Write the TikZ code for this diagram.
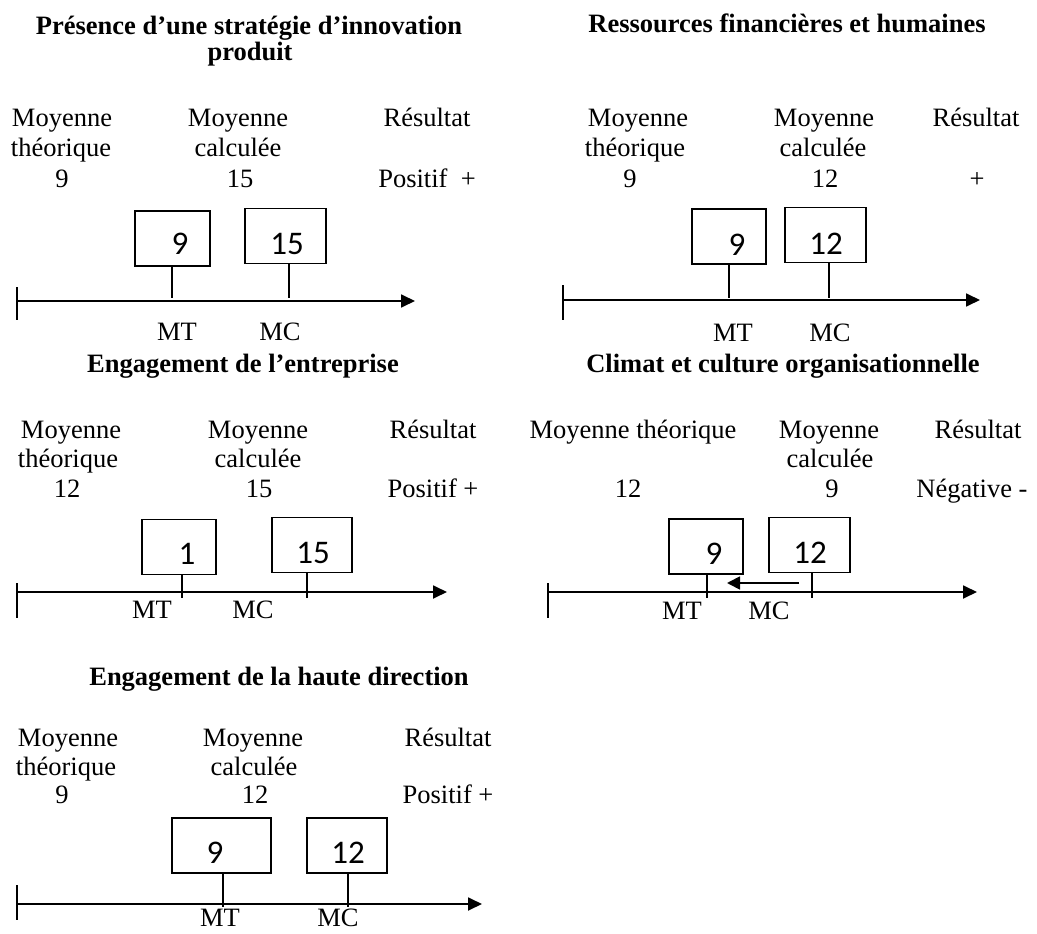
\documentclass[tikz,border=0pt]{standalone}
\usepackage{fontspec}
\setmainfont{Liberation Serif}
\newfontfamily\numfont{Carlito}
\usetikzlibrary{arrows.meta}

\begin{document}
\begin{tikzpicture}[x=1pt, y=-1pt,
  txt/.style={inner sep=0pt, anchor=base, font=\fontsize{26.5}{29.5}\selectfont},
  ttl/.style={txt, font=\fontsize{26.5}{26}\selectfont\bfseries},
  valbox/.style={draw, line width=1.8pt, inner sep=0pt, minimum height=55pt},
  valnum/.style={inner sep=0pt, anchor=base, font=\numfont\fontsize{33}{36}\selectfont},
  stem/.style={line width=1.8pt},
  axis/.style={line width=1.8pt, -{Triangle[length=14pt,width=13pt]}}]
\useasboundingbox (0,0) rectangle (1037,934);

% strategie d'innovation produit
\node[ttl] (t1a) at (249,35) {Présence d’une stratégie d’innovation};
\node[ttl] (t1b) at (250,61) {produit};
\node[txt] (p1ma) at (62,127) {Moyenne};
\node[txt] (p1mb) at (61,157) {théorique};
\node[txt] (p1mv) at (62,187) {9};
\node[txt] (p1ca) at (238,127) {Moyenne};
\node[txt] (p1cb) at (238,157) {calculée};
\node[txt] (p1cv) at (240,187) {15};
\node[txt] (p1ra) at (427,127) {Résultat};
\node[txt] (p1rv) at (427,187) {Positif\ \ +};
\node[valbox, minimum width=75pt] (p1bt) at (172.5,238.5) {};
\node[valbox, minimum width=81pt] (p1bc) at (285.5,236) {};
\node[valnum] (p1nt) at (180,254) {9};
\node[valnum] (p1nc) at (287,254) {15};
\coordinate (p1o) at (17,301);
\coordinate (p1e) at (415,301);
\coordinate (p1xt) at (172,298);
\coordinate (p1xc) at (289,298);
\draw[axis] (p1o) -- (p1e);
\draw[stem] ([yshift=14pt]p1o) -- ([yshift=-19pt]p1o);
\draw[stem] (p1bt.south -| p1xt) -- (p1xt);
\draw[stem] (p1bc.south -| p1xc) -- (p1xc);
\node[txt] (p1lt) at (177,340) {MT};
\node[txt] (p1lc) at (280,340) {MC};

% ressources
\node[ttl] (t2) at (787,33) {Ressources financières et humaines};
\node[txt] (p2ma) at (638,127) {Moyenne};
\node[txt] (p2mb) at (635,157) {théorique};
\node[txt] (p2mv) at (630,187) {9};
\node[txt] (p2ca) at (824,127) {Moyenne};
\node[txt] (p2cb) at (823,157) {calculée};
\node[txt] (p2cv) at (825,187) {12};
\node[txt] (p2ra) at (976,127) {Résultat};
\node[txt] (p2rv) at (977,187) {+};
\node[valbox, minimum width=74pt] (p2bt) at (729,236.5) {};
\node[valbox, minimum width=81pt] (p2bc) at (825.5,235) {};
\node[valnum] (p2nt) at (737,255) {9};
\node[valnum] (p2nc) at (826,254) {12};
\coordinate (p2o) at (563,300);
\coordinate (p2e) at (980,300);
\coordinate (p2xt) at (729,298);
\coordinate (p2xc) at (829,298);
\draw[axis] (p2o) -- (p2e);
\draw[stem] ([yshift=15pt]p2o) -- ([yshift=-20pt]p2o);
\draw[stem] (p2bt.south -| p2xt) -- (p2xt);
\draw[stem] (p2bc.south -| p2xc) -- (p2xc);
\node[txt] (p2lt) at (733,341) {MT};
\node[txt] (p2lc) at (830,341) {MC};

% engagement de l'entreprise
\node[ttl] (t3) at (243,372) {Engagement de l’entreprise};
\node[txt] (p3ma) at (71,438) {Moyenne};
\node[txt] (p3mb) at (68,467) {théorique};
\node[txt] (p3mv) at (67,497) {12};
\node[txt] (p3ca) at (258,438) {Moyenne};
\node[txt] (p3cb) at (258,467) {calculée};
\node[txt] (p3cv) at (259,497) {15};
\node[txt] (p3ra) at (433,438) {Résultat};
\node[txt] (p3rv) at (433,497) {Positif +};
\node[valbox, minimum width=74pt] (p3bt) at (179,547) {};
\node[valbox, minimum width=80pt] (p3bc) at (312,545) {};
\node[valnum] (p3nt) at (187,564) {1};
\node[valnum] (p3nc) at (313,563) {15};
\coordinate (p3o) at (17,592);
\coordinate (p3e) at (447,592);
\coordinate (p3xt) at (182,598);
\coordinate (p3xc) at (307,598);
\draw[axis] (p3o) -- (p3e);
\draw[stem] ([yshift=9pt]p3o) -- ([yshift=-26pt]p3o);
\draw[stem] (p3bt.south -| p3xt) -- (p3xt);
\draw[stem] (p3bc.south -| p3xc) -- (p3xc);
\node[txt] (p3lt) at (152,618) {MT};
\node[txt] (p3lc) at (253,618) {MC};

% climat et culture
\node[ttl] (t4) at (783,372) {Climat et culture organisationnelle};
\node[txt] (p4ma) at (633,438) {Moyenne théorique};
\node[txt] (p4mv) at (628,497) {12};
\node[txt] (p4ca) at (829,438) {Moyenne};
\node[txt] (p4cb) at (830,467) {calculée};
\node[txt] (p4cv) at (832,497) {9};
\node[txt] (p4ra) at (978,438) {Résultat};
\node[txt] (p4rv) at (972,497) {Négative -};
\node[valbox, minimum width=74pt] (p4bt) at (706,546.5) {};
\node[valbox, minimum width=81pt] (p4bc) at (809.5,545) {};
\node[valnum] (p4nt) at (714,564) {9};
\node[valnum] (p4nc) at (810,563) {12};
\coordinate (p4o) at (548,592);
\coordinate (p4e) at (977,592);
\coordinate (p4xt) at (707,598);
\coordinate (p4xc) at (812,598);
\coordinate (p4ds) at (799,583);
\coordinate (p4de) at (727,583);
\draw[axis] (p4o) -- (p4e);
\draw[stem] ([yshift=9pt]p4o) -- ([yshift=-26pt]p4o);
\draw[stem] (p4bt.south -| p4xt) -- (p4xt);
\draw[stem] (p4bc.south -| p4xc) -- (p4xc);
\draw[stem, -{Triangle[length=13pt,width=13pt]}] (p4ds) -- (p4de);
\node[txt] (p4lt) at (682,619) {MT};
\node[txt] (p4lc) at (769,619) {MC};

% haute direction
\node[ttl] (t5) at (279,685) {Engagement de la haute direction};
\node[txt] (p5ma) at (68,746) {Moyenne};
\node[txt] (p5mb) at (66,775) {théorique};
\node[txt] (p5mv) at (62,803) {9};
\node[txt] (p5ca) at (253,746) {Moyenne};
\node[txt] (p5cb) at (254,775) {calculée};
\node[txt] (p5cv) at (255,803) {12};
\node[txt] (p5ra) at (448,746) {Résultat};
\node[txt] (p5rv) at (448,803) {Positif +};
\node[valbox, minimum width=99pt] (p5bt) at (221.5,845.5) {};
\node[valbox, minimum width=80pt] (p5bc) at (347,845.5) {};
\node[valnum] (p5nt) at (215,863) {9};
\node[valnum] (p5nc) at (348,863) {12};
\coordinate (p5o) at (17,904);
\coordinate (p5e) at (482,904);
\coordinate (p5xt) at (223,907);
\coordinate (p5xc) at (348,907);
\draw[axis] (p5o) -- (p5e);
\draw[stem] ([yshift=19pt]p5o) -- ([yshift=-16pt]p5o);
\draw[stem] (p5bt.south -| p5xt) -- (p5xt);
\draw[stem] (p5bc.south -| p5xc) -- (p5xc);
\node[txt] (p5lt) at (220,926) {MT};
\node[txt] (p5lc) at (338,926) {MC};
\end{tikzpicture}
\end{document}
